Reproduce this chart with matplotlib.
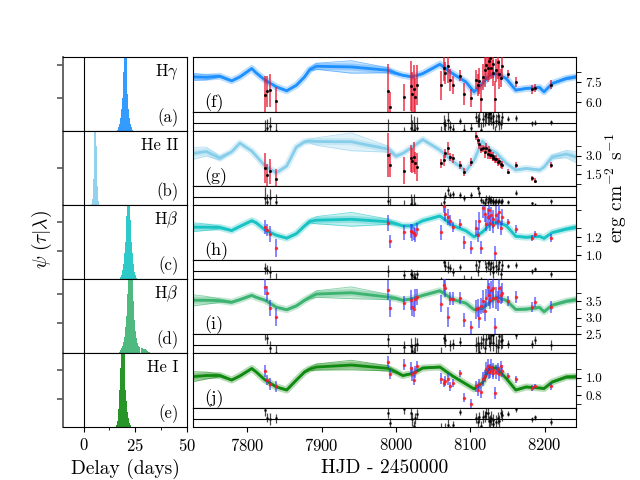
import numpy as np
import matplotlib
matplotlib.use('Agg')
import matplotlib.pyplot as plt

plt.rcParams['font.family'] = 'serif'
plt.rcParams['font.serif'] = ['cmr10']
plt.rcParams['mathtext.fontset'] = 'cm'
plt.rcParams['axes.formatter.use_mathtext'] = True

# ---- model light curves (knots) ----
KNOT_T = [7727, 7745, 7763, 7779, 7790, 7806, 7812, 7824, 7839, 7853, 7866, 7877,
          7884, 7893, 7940, 7989, 8000, 8009, 8022, 8036, 8059, 8076, 8094, 8105,
          8116, 8126, 8135, 8148, 8161, 8175, 8193, 8199, 8210, 8229, 8242]

MODEL_F = [7.90, 7.87, 7.95, 7.60, 7.90, 8.53, 8.20, 7.65, 7.15, 6.85, 7.27, 7.90,
           8.45, 8.70, 8.65, 8.40, 8.17, 8.02, 7.90, 8.15, 8.85, 8.15, 7.52, 6.77,
           7.40, 8.02, 8.15, 7.78, 6.90, 7.03, 7.10, 6.77, 7.40, 7.78, 7.90]
BAND_F = [0.26, 0.19, 0.09] + [0.06] * 8 + [0.075, 0.11, 0.23, 0.47, 0.19, 0.09] + [0.06] * 16 + [0.09, 0.11]

MODEL_G = [3.19, 3.34, 2.81, 3.32, 4.02, 3.38, 2.98, 2.17, 1.63, 2.17, 3.70, 4.13,
           4.19, 4.15, 4.13, 3.54, 2.98, 3.19, 3.70, 4.31, 3.46, 2.57, 1.77, 2.65,
           4.19, 3.54, 3.22, 2.41, 1.85, 1.98, 1.85, 2.09, 2.90, 3.14, 2.90]
BAND_G = [0.48, 0.36, 0.16] + [0.07] * 8 + [0.1, 0.15, 0.3, 0.72, 0.25, 0.12] + [0.07] * 15 + [0.15, 0.3, 0.45]

MODEL_H = [1.309, 1.309, 1.306, 1.272, 1.318, 1.381, 1.358, 1.277, 1.220, 1.187, 1.237, 1.324,
           1.373, 1.387, 1.397, 1.370, 1.347, 1.324, 1.324, 1.381, 1.434, 1.329, 1.269, 1.202,
           1.254, 1.335, 1.364, 1.329, 1.208, 1.197, 1.208, 1.185, 1.249, 1.289, 1.309]
BAND_H = [0.05, 0.035, 0.016] + [0.01] * 8 + [0.012, 0.018, 0.04, 0.077, 0.03, 0.015] + [0.01] * 16 + [0.014, 0.018]

MODEL_I = [3.53, 3.53, 3.52, 3.47, 3.55, 3.68, 3.62, 3.53, 3.32, 3.24, 3.36, 3.53,
           3.62, 3.72, 3.76, 3.63, 3.59, 3.53, 3.58, 3.68, 3.82, 3.56, 3.44, 3.24,
           3.28, 3.47, 3.62, 3.53, 3.25, 3.26, 3.31, 3.18, 3.38, 3.50, 3.55]
BAND_I = [0.17, 0.12, 0.05] + [0.03] * 8 + [0.035, 0.05, 0.1, 0.18, 0.08, 0.04] + [0.03] * 16 + [0.04, 0.05]

MODEL_J = [1.012, 1.025, 1.025, 0.973, 1.020, 1.106, 1.066, 0.973, 0.893, 0.858, 0.973, 1.066,
           1.100, 1.123, 1.146, 1.108, 1.066, 1.025, 1.048, 1.112, 1.123, 1.020, 0.927, 0.870,
           0.939, 1.112, 1.112, 0.993, 0.858, 0.893, 0.881, 0.875, 0.950, 1.008, 1.012]
BAND_J = [0.058, 0.04, 0.016] + [0.01] * 8 + [0.012, 0.018, 0.035, 0.055, 0.03, 0.015] + [0.01] * 16 + [0.014, 0.018]

# ---- observed epochs and fluxes ----
EPOCHS = [7824, 7827, 7831, 7838, 7989, 7992, 8011,
          8020, 8022, 8024, 8026, 8028,
          8061, 8064, 8066, 8070, 8073, 8076,
          8086, 8092, 8101,
          8108, 8110, 8112, 8114, 8117, 8119, 8121, 8123, 8125, 8127, 8128, 8130, 8131,
          8133, 8135, 8137, 8139, 8141, 8143,
          8151, 8161, 8183, 8187, 8208]

FLUX_F = [6.5, 6.8, 6.9, 6.05, 6.85, 5.65, 6.35, 7.2, 6.6, 7.0, 6.4, 7.3,
          7.25, 8.6, 8.2, 8.7, 7.65, 7.3, 8.0, 6.6, 6.3,
          7.7, 7.3, 7.6, 6.25, 7.9, 8.4, 8.8, 8.55, 9.1, 9.3, 8.6, 8.9, 8.2, 6.2, 8.4, 9.0, 8.1, 7.8, 8.7,
          8.1, 7.5, 6.95, 7.05, 7.3]
ERR_F = [1.5, 1.2, 1.25, 1.05, 2.0, 1.1, 1.0, 1.9, 1.7, 1.8, 1.4, 1.5,
         1.1, 1.0, 0.85, 1.25, 0.85, 0.7, 0.4, 0.85, 0.7,
         0.7, 0.85, 1.0, 1.1, 1.0, 1.25, 1.1, 1.0, 1.4, 1.25, 0.85, 1.1, 1.0, 1.4, 0.85, 1.25, 1.1, 0.7, 0.85,
         0.3, 0.4, 0.35, 0.3, 0.35]

FLUX_G = [2.0, 1.45, 1.75, 1.1, 3.05, 2.25, 1.8, 2.8, 2.6, 2.9, 2.4, 2.1,
          2.4, 2.65, 3.2, 3.6, 2.9, 2.8, 2.25, 1.7, 2.5,
          4.6, 4.25, 3.95, 3.55, 3.6, 3.3, 3.65, 3.15, 3.45, 3.05, 3.1, 2.85, 2.95, 2.7, 2.75, 2.5, 2.55, 2.3, 2.25,
          1.7, 2.25, 1.2, 1.0, 2.25]
ERR_G = [1.2, 0.9, 1.0, 0.8, 1.8, 1.0, 1.1, 1.1, 1.0, 1.2, 0.9, 1.1,
         0.35, 0.45, 0.35, 0.55, 0.35, 0.35, 0.3, 0.35, 0.35,
         0.35, 0.3, 0.4, 0.35, 0.3, 0.45, 0.35, 0.4, 0.3, 0.35, 0.4, 0.3, 0.35, 0.3, 0.3, 0.35, 0.3, 0.25, 0.3,
         0.2, 0.25, 0.2, 0.2, 0.25]

FLUX_H = [1.31, 1.28, 1.23, 1.08, 1.36, 1.15, 1.25, 1.27, 1.25, 1.24, 1.22, 1.29,
          1.25, 1.54, 1.46, 1.42, 1.38, 1.31, 1.35, 1.14, 1.08,
          1.3, 1.22, 1.38, 1.08, 1.52, 1.46, 1.35, 1.42, 1.5, 1.36, 1.45, 1.4, 1.33, 1.02, 1.44, 1.38, 1.48, 1.3, 1.42,
          1.37, 1.29, 1.19, 1.23, 1.19]
ERR_H = [0.08, 0.07, 0.09, 0.1, 0.09, 0.07, 0.08, 0.08, 0.09, 0.07, 0.08, 0.07,
         0.08, 0.07, 0.08, 0.09, 0.06, 0.06, 0.045, 0.07, 0.07,
         0.09, 0.08, 0.1, 0.07, 0.11, 0.09, 0.08, 0.1, 0.11, 0.09, 0.08, 0.1, 0.09, 0.08, 0.11, 0.09, 0.1, 0.08, 0.09,
         0.035, 0.045, 0.035, 0.035, 0.045]

FLUX_I = [3.95, 3.74, 3.3, 3.02, 3.85, 3.28, 3.45, 3.53, 3.32, 3.27, 3.58, 3.63,
          3.43, 4.0, 3.9, 3.02, 3.58, 3.58, 3.6, 2.92, 2.71,
          3.25, 3.3, 3.0, 3.35, 3.5, 3.2, 3.6, 3.95, 3.7, 3.55, 3.85, 3.6, 3.9, 2.7, 3.6, 3.5, 3.9, 3.7, 3.75,
          3.5, 3.63, 3.32, 3.48, 3.32]
ERR_I = [0.25, 0.22, 0.25, 0.28, 0.3, 0.25, 0.22, 0.3, 0.28, 0.25, 0.3, 0.25,
         0.25, 0.22, 0.28, 0.3, 0.2, 0.2, 0.18, 0.22, 0.2,
         0.3, 0.28, 0.32, 0.25, 0.35, 0.3, 0.28, 0.32, 0.35, 0.3, 0.28, 0.32, 0.3, 0.28, 0.35, 0.3, 0.32, 0.28, 0.3,
         0.15, 0.18, 0.15, 0.15, 0.18]

FLUX_J = [1.08, 0.97, 0.93, 0.9, 1.18, 1.04, 1.15, 1.11, 1.04, 0.97, 1.07, 1.13,
          0.99, 0.94, 0.96, 0.98, 0.9, 0.94, 1.05, 0.77, 0.7,
          0.9, 0.86, 0.93, 0.83, 0.98, 1.02, 1.1, 1.13, 1.06, 1.08, 1.12, 1.05, 1.09, 0.82, 1.07, 1.1, 1.04, 1.13, 1.08,
          1.02, 0.98, 0.88, 0.9, 0.9]
ERR_J = [0.07, 0.06, 0.07, 0.06, 0.07, 0.06, 0.06, 0.07, 0.08, 0.06, 0.07, 0.06,
         0.06, 0.05, 0.06, 0.07, 0.05, 0.05, 0.04, 0.05, 0.05,
         0.06, 0.07, 0.06, 0.07, 0.08, 0.07, 0.08, 0.09, 0.07, 0.08, 0.09, 0.07, 0.08, 0.07, 0.08, 0.07, 0.08, 0.06, 0.07,
         0.03, 0.04, 0.03, 0.03, 0.04]

# ---- delay distributions (0.5 day bins, first bin centre + heights) ----
HIST_START = [16.25, 3.75, 17.75, 17.25, 15.75]
HIST_A = [0.02, 0.05, 0.1, 0.17, 0.3, 0.45, 0.8, 1.6, 1.7, 1.2, 0.5, 0.3, 0.18, 0.1, 0.05, 0.02]
HIST_B = [0.02, 0.08, 0.35, 1.6, 1.7, 0.8, 0.25, 0.05]
HIST_C = [0.03, 0.06, 0.12, 0.2, 0.35, 0.5, 0.85, 1.5, 1.6, 1.4, 0.8, 0.5, 0.35, 0.2, 0.1, 0.05, 0.02]
HIST_D = [0.02, 0.04, 0.07, 0.1, 0.15, 0.22, 0.35, 0.5, 0.8, 1.2, 1.5, 1.6, 1.3, 1.05, 0.7,
          0.45, 0.3, 0.2, 0.14, 0.1, 0.08, 0.07, 0.07, 0.06, 0.06, 0.05, 0.04, 0.03, 0.02, 0.01]
HIST_E = [0.03, 0.08, 0.25, 0.5, 0.8, 1.4, 1.6, 1.3, 1.05, 0.5, 0.35, 0.2, 0.12, 0.06, 0.03]

LINE_NAMES = [r'H$\gamma$', 'He II', r'H$\beta$', r'H$\beta$', 'He I']
COLORS = ['#1e90ff', '#87ceeb', '#17c3c3', '#3cb371', '#108a10']

models = [MODEL_F, MODEL_G, MODEL_H, MODEL_I, MODEL_J]
bands = [BAND_F, BAND_G, BAND_H, BAND_I, BAND_J]
fluxes = [FLUX_F, FLUX_G, FLUX_H, FLUX_I, FLUX_J]
errs = [ERR_F, ERR_G, ERR_H, ERR_I, ERR_J]
hists = [HIST_A, HIST_B, HIST_C, HIST_D, HIST_E]

ylims = [(5.25, 9.4), (0.56, 5.0), (0.944, 1.556), (2.5, 4.18), (0.65, 1.285)]
major = [[6.0, 7.5], [1.5, 3.0], [1.0, 1.2], [2.5, 3.0, 3.5], [0.8, 1.0]]
minor = [[6.75, 8.25], [0.75, 2.25, 3.75], [1.1, 1.3, 1.5], [2.75, 3.25, 3.75], [0.7, 0.9, 1.1]]
res_lim = [1.4, 1.1, 0.16, 0.4, 0.13]
left_ticks = [[0.44, 0.89], [0.5], [0.38, 0.77], [0.41, 0.8], [0.38, 0.77]]

fig = plt.figure(figsize=(6.4, 4.8), dpi=100)
W, H = 640.0, 480.0
xlim = (7727, 8242)

for k in range(5):
    top = 57 + 74 * k
    col = COLORS[k]

    # delay distribution
    axl = fig.add_axes([63 / W, 1 - (top + 74) / H, 124 / W, 74 / H])
    centres = HIST_START[k] + 0.5 * np.arange(len(hists[k]))
    axl.bar(centres, hists[k], width=0.5, color=col, alpha=0.9, linewidth=0)
    axl.axvline(0, color='k', lw=0.8)
    axl.set_xlim(-10, 50)
    axl.set_ylim(0, 1)
    axl.set_yticks(left_ticks[k])
    axl.set_yticklabels([])
    axl.spines['left'].set_color('0.35')
    axl.spines['left'].set_linewidth(1.3)
    axl.tick_params(axis='y', color='0.35', width=1.2, length=4)
    axl.text(0.93, 0.8, LINE_NAMES[k], transform=axl.transAxes, ha='right', va='center', fontsize=12)
    axl.text(0.93, 0.18, '(' + 'abcde'[k] + ')', transform=axl.transAxes, ha='right', va='center', fontsize=12)
    if k < 4:
        axl.set_xticks([])
    else:
        axl.set_xticks([0, 25, 50])
        axl.set_xticks([12.5, 37.5], minor=True)
        axl.tick_params(axis='x', labelsize=12)
        axl.set_xlabel('Delay (days)', fontsize=14)

    # light curve
    ax = fig.add_axes([193 / W, 1 - (top + 55) / H, 383 / W, 55 / H])
    m = np.array(models[k])
    b = np.array(bands[k])
    ax.fill_between(KNOT_T, m - b, m + b, color=col, alpha=0.25, lw=0)
    ax.plot(KNOT_T, m + b, color=col, lw=0.6, alpha=0.6)
    ax.plot(KNOT_T, m - b, color=col, lw=0.6, alpha=0.6)
    ax.plot(KNOT_T, m, color=col, lw=5, alpha=0.3)
    ax.plot(KNOT_T, m, color=col, lw=2)
    if k < 2:
        ax.errorbar(EPOCHS, fluxes[k], yerr=errs[k], fmt='.', ms=2.5, color='k',
                    ecolor='#e8102a', elinewidth=1.1, alpha=0.85, zorder=3)
    else:
        ax.errorbar(EPOCHS, fluxes[k], yerr=errs[k], fmt='.', ms=3, color='#ff1a1a',
                    ecolor='#3535ff', elinewidth=1.1, alpha=0.75, zorder=3)
    ax.set_xlim(*xlim)
    ax.set_ylim(*ylims[k])
    ax.set_xticks([])
    ax.yaxis.tick_right()
    ax.set_yticks(major[k])
    ax.set_yticks(minor[k], minor=True)
    ax.yaxis.set_major_formatter(plt.FormatStrFormatter('%.1f'))
    ax.tick_params(axis='y', labelsize=9.5, length=3.5)
    ax.tick_params(axis='y', which='minor', length=3.5)
    ax.text(0.03, 0.08, '(' + 'fghij'[k] + ')', transform=ax.transAxes, fontsize=13)

    # residuals
    axr = fig.add_axes([193 / W, 1 - (top + 74) / H, 383 / W, 19 / H])
    resid = np.array(fluxes[k]) - np.interp(EPOCHS, KNOT_T, m)
    axr.axhline(0, color='k', lw=0.8)
    axr.errorbar(EPOCHS, resid, yerr=errs[k], fmt='.', ms=2, color='k',
                 ecolor='k', elinewidth=0.9, alpha=0.7)
    axr.set_xlim(*xlim)
    axr.set_ylim(-0.8 * res_lim[k], res_lim[k])
    axr.set_yticks([])
    if k < 4:
        axr.set_xticks([])
    else:
        axr.set_xticks([7800, 7900, 8000, 8100, 8200])
        axr.tick_params(axis='x', labelsize=12)
        axr.set_xlabel('HJD - 2450000', fontsize=14)

fig.text(0.066, 0.5, r'$\psi\ (\tau|\lambda)$', rotation=90, ha='center', va='center', fontsize=14)
fig.text(0.963, 1 - 188 / H, r'erg cm$^{-2}$ s$^{-1}$', rotation=90, ha='center', va='center', fontsize=14)

fig.savefig('out.png', dpi=100)
